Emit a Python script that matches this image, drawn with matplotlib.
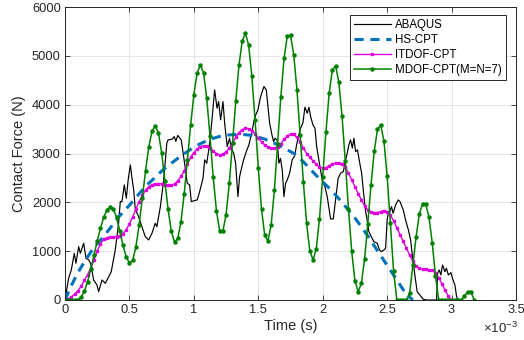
"""
Contact force history: ABAQUS vs HS-CPT / ITDOF-CPT / MDOF-CPT
"""

import numpy as np
import matplotlib
matplotlib.use("Agg")
import matplotlib.pyplot as plt

plt.rcParams['font.family'] = ['Liberation Sans', 'DejaVu Sans']
plt.rcParams['mathtext.fontset'] = 'custom'
plt.rcParams['mathtext.rm'] = 'Liberation Sans'

# ------------------------------------------------------------
# data (time in ms, force in N)
# ------------------------------------------------------------

# ABAQUS: irregular samples
abaqus_t = [
    0.000, 0.028, 0.049, 0.072, 0.085, 0.106, 0.119, 0.145, 0.163, 0.184,
    0.200, 0.222, 0.248, 0.261, 0.287, 0.313, 0.339, 0.359, 0.390, 0.416,
    0.429, 0.442, 0.460, 0.476, 0.490, 0.507, 0.520, 0.533, 0.546, 0.566,
    0.597, 0.623, 0.649, 0.675, 0.700, 0.713, 0.740, 0.766, 0.790, 0.800,
    0.830, 0.848, 0.860, 0.875, 0.902, 0.928, 0.949, 0.967, 0.980, 1.005,
    1.026, 1.045, 1.071, 1.084, 1.100, 1.123, 1.143, 1.161, 1.180, 1.192,
    1.208, 1.226, 1.239, 1.259, 1.277, 1.290, 1.309, 1.324, 1.342, 1.355,
    1.373, 1.386, 1.407, 1.427, 1.445, 1.466, 1.480, 1.497, 1.518, 1.544,
    1.562, 1.575, 1.588, 1.606, 1.619, 1.630, 1.646, 1.660, 1.672, 1.686,
    1.699, 1.712, 1.725, 1.743, 1.763, 1.782, 1.795, 1.808, 1.828, 1.846,
    1.862, 1.880, 1.893, 1.906, 1.924, 1.940, 1.953, 1.970, 1.996, 2.017,
    2.035, 2.061, 2.082, 2.100, 2.120, 2.139, 2.160, 2.178, 2.190, 2.203,
    2.216, 2.230, 2.242, 2.255, 2.270, 2.283, 2.302, 2.320, 2.333, 2.345,
    2.358, 2.377, 2.397, 2.423, 2.441, 2.455, 2.475, 2.488, 2.500, 2.508,
    2.520, 2.534, 2.546, 2.566, 2.586, 2.600, 2.625, 2.643, 2.665, 2.682,
    2.697, 2.715, 2.733, 2.754, 2.780, 2.810, 2.884, 2.891, 2.904, 2.917,
    2.930, 2.948, 2.960, 2.975, 2.995, 3.010, 3.026, 3.039, 3.050,
]
abaqus_f = [
    0, 444, 615, 957, 752, 1093, 957, 1162, 854, 820,
    740, 410, 307, 170, 410, 342, 478, 580, 1025, 1571,
    2015, 2015, 2357, 2084, 2459, 2766, 2494, 2254, 1844, 1742,
    1502, 1297, 1230, 1367, 1571, 1502, 1912, 2459, 3211, 3279,
    3292, 3346, 3250, 3370, 3279, 2801, 2391, 2357, 2015, 2035,
    2049, 2220, 2494, 2869, 2800, 3211, 3756, 4303, 3928, 4064,
    3689, 4064, 3621, 3142, 3313, 3110, 3006, 2801, 2117, 2527,
    2732, 2869, 3039, 3176, 3381, 3654, 3791, 3893, 4166, 4371,
    4303, 3962, 3621, 3381, 3244, 3313, 3279, 2801, 2900, 2664,
    2117, 2391, 2460, 2596, 2869, 2950, 3142, 3313, 3518, 3621,
    3948, 3825, 3948, 3756, 3586, 3518, 3142, 2869, 2459, 2322,
    2117, 1660, 1660, 2049, 2494, 2596, 2630, 2869, 3006, 3176,
    3279, 3110, 3313, 3039, 3074, 2869, 2596, 2117, 1810, 1639,
    1400, 1297, 1195, 1162, 1025, 990, 1025, 1060, 1639, 1776,
    1810, 1912, 1776, 1947, 2049, 2015, 1844, 1639, 1434, 1230,
    888, 512, 170, 102, 14, 0, 0, 547, 615, 512,
    717, 580, 650, 512, 560, 420, 307, 68, 0,
]

# HS-CPT: smooth, sampled every 0.05 ms
hs_dt = 0.05
hs_f = [
    0, 300, 560, 780, 980, 1150, 1300, 1470,
    1650, 1800, 1940, 2100, 2250, 2390, 2510, 2640,
    2750, 2850, 2950, 3040, 3130, 3200, 3260, 3310,
    3350, 3375, 3385, 3390, 3385, 3370, 3335, 3295,
    3240, 3180, 3110, 3040, 2960, 2830, 2690, 2550,
    2420, 2290, 2150, 2000, 1840, 1680, 1500, 1310,
    1110, 910, 710, 510, 310, 110, 0,
]

# ITDOF-CPT: sampled every 0.025 ms
itdof_dt = 0.025
itdof_f = [
    0, 20, 65, 120, 190, 280, 400, 520,
    650, 820, 1000, 1150, 1240, 1275, 1290, 1295,
    1300, 1320, 1360, 1440, 1560, 1700, 1860, 2010,
    2140, 2250, 2320, 2360, 2380, 2385, 2380, 2365,
    2350, 2350, 2380, 2440, 2530, 2640, 2790, 2920,
    3020, 3090, 3140, 3160, 3150, 3110, 3050, 3000,
    2975, 2985, 3030, 3110, 3220, 3330, 3430, 3490,
    3515, 3510, 3470, 3400, 3320, 3240, 3170, 3130,
    3110, 3110, 3140, 3200, 3290, 3360, 3395, 3390,
    3330, 3230, 3110, 3000, 2920, 2850, 2780, 2720,
    2700, 2710, 2750, 2790, 2800, 2800, 2780, 2720,
    2600, 2460, 2320, 2180, 2050, 1930, 1840, 1800,
    1790, 1790, 1810, 1830, 1810, 1740, 1620, 1480,
    1340, 1200, 1060, 920, 790, 700, 650, 630,
    625, 620, 610, 560, 460, 330, 200, 80,
    0,
]

# MDOF-CPT(M=N=7): sampled every 0.025 ms
mdof_dt = 0.025
mdof_f = [
    0, 0, 0, 0, 10, 60, 175, 375,
    630, 915, 1205, 1470, 1690, 1840, 1905, 1870,
    1690, 1415, 1120, 880, 760, 810, 1085, 1530,
    2085, 2645, 3130, 3455, 3570, 3425, 3015, 2445,
    1860, 1405, 1185, 1260, 1605, 2170, 2865, 3580,
    4200, 4640, 4815, 4655, 4130, 3360, 2525, 1830,
    1420, 1405, 1750, 2390, 3210, 4065, 4805, 5300,
    5465, 5220, 4585, 3685, 2705, 1860, 1325, 1210,
    1540, 2250, 3190, 4160, 4950, 5405, 5420, 5025,
    4305, 3375, 2410, 1570, 1005, 820, 1050, 1665,
    2520, 3440, 4235, 4715, 4795, 4460, 3765, 2845,
    1865, 995, 395, 170, 340, 840, 1565, 2360,
    3050, 3495, 3585, 3255, 2535, 1580, 590, 0,
    0, 0, 0, 150, 720, 1300, 1760, 1975,
    1960, 1690, 1170, 500, 0, 0, 0, 0,
    0, 0, 0, 0, 80, 170, 170, 0,
]

x_ticks = [0, 0.5, 1, 1.5, 2, 2.5, 3, 3.5]
y_ticks = [0, 1000, 2000, 3000, 4000, 5000, 6000]

hs_t = np.arange(len(hs_f)) * hs_dt
itdof_t = np.arange(len(itdof_f)) * itdof_dt
mdof_t = np.arange(len(mdof_f)) * mdof_dt

# ------------------------------------------------------------
# plot
# ------------------------------------------------------------
fig = plt.figure(figsize=(5.24, 3.4), dpi=100)
ax = fig.add_axes([65 / 524, 1 - 300 / 340, 451 / 524, 293 / 340])

ax.plot(abaqus_t, abaqus_f, color='k', lw=0.85, label='ABAQUS')
ax.plot(hs_t, hs_f, color='#0072BD', lw=2.2, dashes=(3, 2.2), label='HS-CPT')
ax.plot(itdof_t, itdof_f, color='#DD00DD', lw=1.0, marker='s', ms=1.7,
        label='ITDOF-CPT')
ax.plot(mdof_t, mdof_f, color='#008000', lw=1.1, marker='o', ms=2.2,
        label='MDOF-CPT(M=N=7)')

ax.set_xlim(0, 3.5)
ax.set_ylim(0, 6000)
ax.set_xticks(x_ticks)
ax.set_xticklabels([f"{v:g}" for v in x_ticks])
ax.set_yticks(y_ticks)
ax.set_yticklabels([str(v) for v in y_ticks])

ax.tick_params(direction='in', top=True, right=True, length=3.5, width=0.6,
               labelsize=9.3, pad=3, colors='#262626')
ax.grid(True, color='#e2e2e2', lw=0.6)
ax.set_axisbelow(True)
for s in ax.spines.values():
    s.set_linewidth(0.7)
    s.set_color('#262626')

ax.set_xlabel('Time (s)', fontsize=10.5, labelpad=2, color='#262626')
ax.set_ylabel('Contact Force (N)', fontsize=10.5, labelpad=4, color='#262626')
ax.text(1.004, -0.07, r'$\times10^{-3}$', transform=ax.transAxes,
        ha='right', va='top', fontsize=9.5, color='#262626')

leg = ax.legend(loc='upper right', bbox_to_anchor=(0.978, 0.973),
                borderaxespad=0, fontsize=8.3, fancybox=False, framealpha=1,
                edgecolor='#262626', handlelength=3.2, handletextpad=0.4,
                borderpad=0.35, labelspacing=0.25, numpoints=1)
leg.get_frame().set_linewidth(0.7)

plt.savefig("out.png", dpi=100)
